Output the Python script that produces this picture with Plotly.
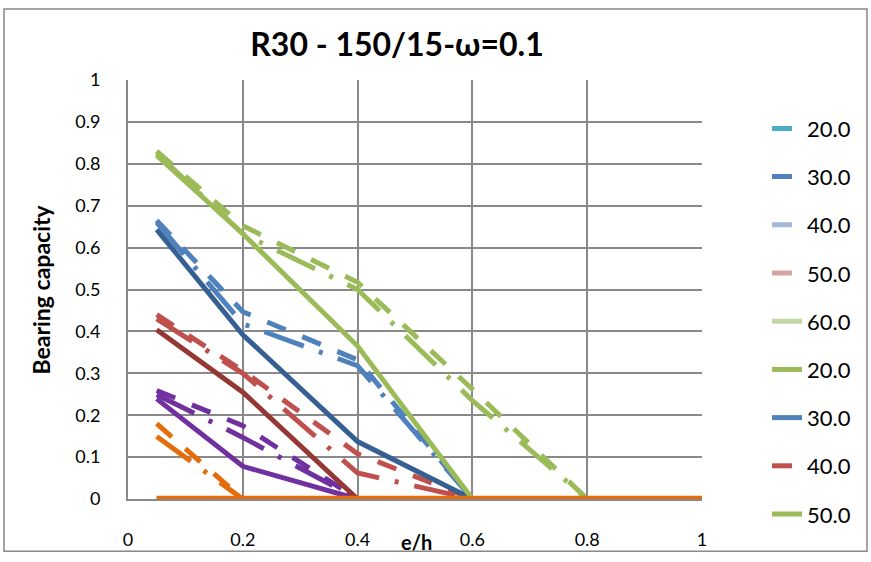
import plotly.graph_objects as go

# ---------------- data ----------------
x_vals = [0.05, 0.2, 0.4, 0.6, 0.8, 1.0]

# zero series (hidden under the orange line)
teal_dash_20 = [0, 0, 0, 0, 0, 0]
lightblue_dash_40 = [0, 0, 0, 0, 0, 0]
pink_dash_50 = [0, 0, 0, 0, 0, 0]
lightgreen_solid_60 = [0, 0, 0, 0, 0, 0]

green_dash = [0.83, 0.652, 0.517, 0.262, 0, 0]
green_dashdot_20 = [0.825, 0.633, 0.50, 0.235, 0, 0]
green_solid_50 = [0.82, 0.633, 0.365, 0, 0, 0]

blue_dash_30 = [0.665, 0.447, 0.332, 0, 0, 0]
blue_dashdot_30 = [0.66, 0.418, 0.318, 0, 0, 0]
darkblue_solid = [0.643, 0.392, 0.137, 0, 0, 0]

red_dash_40 = [0.44, 0.306, 0.108, 0, 0, 0]
red_dashdot = [0.43, 0.30, 0.062, 0, 0, 0]
darkred_solid = [0.404, 0.255, 0, 0, 0, 0]

purple_dash = [0.259, 0.175, 0, 0, 0, 0]
purple_dashdot = [0.249, 0.147, 0, 0, 0, 0]
purple_solid = [0.239, 0.078, 0, 0, 0, 0]

orange_dash = [0.18, 0, 0, 0, 0, 0]
orange_dashdot = [0.149, 0, 0, 0, 0, 0]
orange_solid = [0, 0, 0, 0, 0, 0]

x_ticks = [0, 0.2, 0.4, 0.6, 0.8, 1]
y_ticks = [0, 0.1, 0.2, 0.3, 0.4, 0.5, 0.6, 0.7, 0.8, 0.9, 1]

title_text = "R30 - 150/15-ω=0.1"
x_title = "e/h"
y_title = "Bearing capacity"

# ---------------- styles ----------------
DASH = "20px,18px"
LDD = "42px,16px,4px,16px"
W = 5
FONT = "Lato, 'Open Sans', sans-serif"

fig = go.Figure()


def add(y, color, dash, name=None, rank=None, width=W):
    show = name is not None
    fig.add_trace(go.Scatter(
        x=x_vals, y=y, mode="lines",
        line=dict(color=color, width=width, dash=dash),
        name=name if show else "",
        showlegend=show,
        legendgroup=("g%s" % rank) if show else None,
        legendrank=rank if show else 1000,
        cliponaxis=False,
        hoverinfo="skip",
    ))


# drawing order (bottom to top)
add(teal_dash_20, "#4BACC6", DASH, "20.0", 1)
add(lightblue_dash_40, "#A5B8DA", DASH, "40.0", 3)
add(pink_dash_50, "#D9A3A2", DASH, "50.0", 4)
add(lightgreen_solid_60, "#C3D6A6", "solid", "60.0", 5)

add(green_dash, "#9BBB59", DASH)
add(green_dashdot_20, "#9BBB59", LDD, "20.0", 6)
add(blue_dash_30, "#4F81BD", DASH, "30.0", 2)
add(blue_dashdot_30, "#4F81BD", LDD, "30.0", 7)
add(red_dash_40, "#C0504D", DASH, "40.0", 8)
add(red_dashdot, "#C0504D", LDD)
add(purple_dash, "#7030A0", DASH)
add(purple_dashdot, "#7030A0", LDD)
add(orange_dash, "#E46C0A", DASH)
add(orange_dashdot, "#E46C0A", LDD)
add(purple_solid, "#7030A0", "solid")
add(darkred_solid, "#953735", "solid")
add(darkblue_solid, "#376092", "solid")
add(green_solid_50, "#9BBB59", "solid", "50.0", 9)
add(orange_solid, "#E46C0A", "solid", width=6.5)

GRID = "#898989"

fig.update_layout(
    width=871, height=562,
    margin=dict(l=128, r=169, t=80, b=57),
    paper_bgcolor="white", plot_bgcolor="white",
    font=dict(family=FONT, color="#000000", size=18),
    title=dict(text=title_text, x=397 / 871, xanchor="center",
               y=1 - 45 / 562, yanchor="middle", xref="container", yref="container",
               font=dict(family=FONT, size=32, weight="bold", color="#000000")),
    xaxis=dict(range=[0, 1], tickvals=x_ticks, ticktext=[str(v) for v in x_ticks],
               showgrid=True, gridcolor=GRID, gridwidth=2,
               showline=True, linecolor=GRID, linewidth=2,
               zeroline=False, ticks="", ticklabelstandoff=23,
               tickfont=dict(family=FONT, size=18, color="#000000")),
    yaxis=dict(range=[0, 1], tickvals=y_ticks, ticktext=[str(v) for v in y_ticks],
               showgrid=True, gridcolor=GRID, gridwidth=2,
               showline=True, linecolor=GRID, linewidth=2,
               zeroline=False, ticks="", ticklabelstandoff=22,
               tickfont=dict(family=FONT, size=18, color="#000000")),
    legend=dict(x=(767 - 128) / 574, xanchor="left", y=(505 - 108) / 425, yanchor="top",
                traceorder="grouped", tracegroupgap=16.6, maxheight=560,
                font=dict(family=FONT, size=22, color="#000000"),
                bgcolor="rgba(0,0,0,0)"),
    showlegend=True,
)

fig.add_annotation(text=x_title, xref="paper", yref="paper", x=0.503, y=0,
                   yanchor="middle", yshift=-43, showarrow=False,
                   font=dict(family=FONT, size=20, weight="bold", color="#000000"))
fig.add_annotation(text=y_title, xref="paper", yref="paper", x=0, y=0.5,
                   xanchor="center", xshift=-88, textangle=-90, showarrow=False,
                   font=dict(family=FONT, size=23, weight="bold", color="#000000"))

# outer chart border
fig.add_shape(type="rect", xref="paper", yref="paper",
              x0=(4 - 128) / 574, x1=(867 - 128) / 574,
              y0=(505 - 558) / 425, y1=(505 - 8) / 425,
              line=dict(color="#888888", width=1.5), fillcolor="rgba(0,0,0,0)", layer="below")

fig.write_html("out.html")
